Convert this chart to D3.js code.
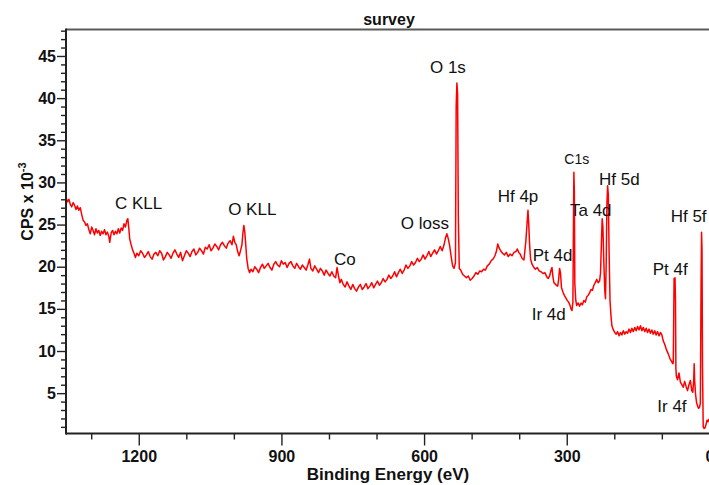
<!DOCTYPE html>
<html>
<head>
<meta charset="utf-8">
<script src="https://cdn.jsdelivr.net/npm/d3@7"></script>
<style>
  html, body { margin: 0; padding: 0; background: #fff; }
  svg { display: block; font-family: "Liberation Sans", Arial, sans-serif; }
</style>
</head>
<body>
<svg id="chart" width="709" height="485"></svg>
<script>
// ---- data: [binding energy (eV), CPS x 10^-3] ----
const regionAuger = [
  [1353,28.2],[1350,27.7],[1347,28.0],[1344,27.4],[1341,27.1],[1338,27.6],[1335,27.3],[1332,26.8],[1329,27.2],[1326,26.7],
  [1323,27.0],[1320,26.2],[1317,25.5],[1314,25.3],[1311,24.9],[1308,25.1],[1305,24.4],[1302,23.9],[1299,24.7],[1296,24.3],
  [1293,23.8],[1290,24.5],[1287,24.0],[1284,24.3],[1281,23.7],[1278,24.2],[1275,23.9],[1272,24.4],[1269,23.8],[1266,24.1],
  [1263,23.6],[1261,22.9],[1258,24.0],[1255,24.3],[1252,23.8],[1249,24.2],[1246,23.9],[1243,24.5],[1240,24.0],[1237,24.6],
  [1234,24.3],[1231,25.1],[1228,24.7],[1225,25.5],[1223,25.7],[1221,24.6],[1219,23.3],[1216,22.6],[1213,22.0],[1210,21.6],
  [1207,21.1],[1204,21.6],[1200,21.3],[1196,21.9],[1192,21.6],[1188,21.1],[1184,21.4],[1180,21.8],[1176,21.2],[1172,20.9],
  [1168,21.5],[1164,21.7],[1160,21.3],[1156,21.9],[1152,21.6],[1148,20.8],[1144,21.2],[1140,21.7],[1136,21.4],[1132,21.0],
  [1128,21.6],[1124,22.0],[1120,21.5],[1116,21.1],[1112,21.7],[1108,20.7],[1104,21.3],[1100,21.9],[1096,21.6],[1092,21.2],
  [1088,21.8],[1084,22.1],[1080,21.4],[1076,21.7],[1072,22.2],[1068,21.9],[1064,21.5],[1060,22.3],[1056,22.1],[1052,22.6],
  [1048,21.9],[1044,22.2],[1040,22.7],[1036,22.4],[1032,22.0],[1028,22.6],[1024,22.9],[1020,22.5],[1016,22.2],[1012,22.8],
  [1008,23.1],[1004,22.6],[1001,23.6],[998,22.9],[995,22.6],[992,21.8],[989,21.3],[986,21.9],[983,22.6],[981,24.0],
  [979,24.9],[977,24.1],[975,22.6],[973,21.0],[970,19.8],[967,19.3],[964,19.7]
];
const regionValence = [
  [960,19.4],[956,20.0],[952,19.7],[948,19.3],[944,19.9],[940,20.3],[936,19.8],[932,20.1],[928,20.4],[924,19.9],
  [920,19.6],[916,20.3],[912,20.6],[908,20.2],[904,20.0],[900,20.7],[896,20.3],[892,20.5],[888,19.9],[884,20.4],
  [880,20.6],[876,20.1],[872,19.8],[868,20.4],[864,20.0],[860,19.7],[856,20.2],[852,19.9],[848,19.6],[844,20.3],
  [841,20.9],[838,19.8],[834,19.5],[830,20.1],[826,19.7],[822,19.3],[818,19.8],[814,19.5],[810,19.0],[806,19.6],
  [802,19.2],[798,18.9],[794,19.4],[790,18.9],[786,18.7],[783,19.9],[780,18.9],[777,18.1],[774,18.5],[770,17.9],
  [766,17.6],[762,18.2],[758,17.7],[754,17.3],[750,17.9],[746,17.4],[742,17.1],[738,17.6],[734,17.9],[730,17.3],
  [726,17.6],[722,18.0],[718,17.4],[714,17.7],[710,18.1],[706,17.5],[702,17.9],[698,18.3],[694,17.8],[690,18.1],
  [686,18.6],[682,18.2],[678,18.5],[674,19.0],[670,18.6],[666,18.9],[662,19.4],[658,18.8],[654,19.3],[650,19.7],
  [646,19.2],[642,19.6],[638,20.2],[634,19.8],[630,20.1],[626,20.6],[622,20.2],[618,20.5],[614,21.0],[610,20.6],
  [606,20.9],[602,21.4],[598,20.9],[594,21.3],[590,21.8],[586,21.2],[582,21.6],[578,22.0],[574,21.5],[570,21.9],
  [566,22.4],[562,21.9],[558,22.6],[555,23.4],[552,23.9],[549,23.3],[546,22.4],[543,21.2],[540,20.1],[537,19.8],
  [534,20.5],[532.5,39.0],[531,41.8],[529.5,40.5],[528,26.0],[526,19.8]
];
const regionCore = [
  [523,19.6],[519,19.1],[515,18.9],[511,18.7],[507,18.9],[503,18.4],[499,18.6],[495,18.9],[491,19.3],[487,19.1],
  [483,19.5],[479,19.4],[475,19.7],[471,19.6],[467,20.1],[463,20.3],[459,20.7],[455,20.9],[451,21.3],[448,21.8],
  [445,22.7],[442,22.2],[439,21.9],[435,21.6],[431,21.4],[427,21.7],[423,21.2],[419,21.5],[415,21.3],[411,21.7],
  [407,21.8],[404,22.1],[401,21.7],[398,21.5],[394,21.0],[390,20.8],[386,23.0],[383,25.5],[381.5,26.7],[380,25.2],
  [378,22.5],[376,20.9],[373,20.3],[370,20.0],[366,19.7],[362,19.9],[358,19.5],[354,19.4],[350,19.2],[346,19.3],
  [342,18.8],[339,18.6],[336,18.9],[333,19.6],[331,19.9],[329,18.8],[327,18.1],[325,18.0],[322,17.8],[319,17.7],
  [317,18.5],[315,19.8],[313,19.2],[311,17.5],[308,17.0],[305,16.6],[302,16.3],[299,16.0],[296,15.8],[293,15.4],
  [291,15.0],[289,14.8],[287,15.8],[286,24.0],[285,31.2],[284,29.0],[283,18.0],[281,16.0],[279,15.4],[276,15.7],
  [273,15.3],[270,15.7],[267,15.5],[264,16.0],[261,15.8],[258,16.4],[255,16.6],[252,16.9],[249,17.3],[246,17.2],
  [243,17.8],[240,18.1],[237,18.5],[234,18.1],[231,18.3],[229,19.2],[227,23.0],[225.5,25.7],[224,24.8],[222,20.5],
  [220,17.2],[218.5,16.2],[217,20.5],[215.5,27.5],[214,29.6],[212.5,28.5],[211,22.0],[209,16.0],[207,14.2],[205,13.0],
  [202,12.5],[199,12.2]
];
const regionShallow = [
  [196,12.0],[193,12.3],[190,11.8],[187,12.2],[184,11.9],[181,12.4],[178,12.0],[175,12.3],[172,12.1],[169,12.6],
  [166,12.2],[163,12.7],[160,12.3],[157,12.8],[154,12.4],[151,12.9],[148,12.5],[145,13.0],[142,12.4],[139,12.8],
  [136,12.3],[133,12.7],[130,12.2],[127,12.6],[124,12.1],[121,12.5],[118,12.0],[115,12.4],[112,11.9],[109,12.3],
  [106,11.8],[103,12.2],[100,11.9],[97,11.2],[94,10.8],[90,10.1],[86,9.6],[83,9.1],[80,8.8],[77,8.5],
  [76,8.6],[75,14.0],[74.3,18.6],[73.3,17.2],[72.3,18.7],[71.3,16.0],[70.5,8.0],[69.5,7.0],[67,6.6],[64,7.4],
  [61,6.3],[58,6.0],[55,5.7],[52,6.4],[49,5.8],[46,5.3],[43,6.0],[40,6.5],[37,5.3],[35,5.1],
  [33,6.5],[32,8.5],[31,6.5],[29,4.8],[27,3.9],[25,3.5],[23,3.2],[21,3.3],[19,3.8],[17.5,18.0],
  [16.5,24.1],[15.5,22.0],[14.5,8.0],[13,1.0],[11,0.8],[9,0.9],[7,1.3],[5,1.8],[3,1.6],[1,1.9],[-1,1.7]
];

const xMajorTicks = [1200, 900, 600, 300, 0];
const xMinorTicks = [1300, 1100, 1000, 800, 700, 500, 400, 200, 100];
const yMajorTicks = [5, 10, 15, 20, 25, 30, 35, 40, 45];
const yMinorTicks = [1,2,3,4,6,7,8,9,11,12,13,14,16,17,18,19,21,22,23,24,26,27,28,29,31,32,33,34,36,37,38,39,41,42,43,44,46,47,48];

// peak annotations: label, energy (eV) and CPS level where the label sits
const peakNames  = ["C KLL","O KLL","Co","O loss","O 1s","Hf 4p","Pt 4d","Ir 4d","C1s","Ta 4d","Hf 5d","Hf 5f","Pt 4f","Ir 4f"];
const peakEnergy = [1250, 1012, 789.5, 649, 587.6, 445.2, 371.6, 373.7, 305.2, 293.2, 232.2, 81.4, 119.2, 109.6];
const peakLevel  = [26.9, 26.1, 20.25, 24.44, 42.93, 27.68, 20.64, 13.63, 32.13, 26.02, 29.67, 25.31, 18.98, 2.74];

const titleText = "survey";
const xTitle = "Binding Energy (eV)";

// ---- drawing ----
const spectrum = regionAuger.concat(regionValence, regionCore, regionShallow);
const svg = d3.select("#chart");
const L = 66, R = 711, T = 29.5, B = 433.5;

const x = d3.scaleLinear().domain([1353, 0]).range([L, 709.4]);
const y = d3.scaleLinear().domain([0.214, 48.14]).range([B, T]);

svg.append("rect").attr("width", 709).attr("height", 485).attr("fill", "#fff");

svg.append("defs").append("clipPath").attr("id", "plotclip")
  .append("rect").attr("x", L).attr("y", T).attr("width", R - L).attr("height", B - T);

svg.append("path")
  .datum(spectrum)
  .attr("clip-path", "url(#plotclip)")
  .attr("fill", "none")
  .attr("stroke", "#ff0000")
  .attr("stroke-width", 1.5)
  .attr("stroke-linejoin", "round")
  .attr("d", d3.line().x(d => x(d[0])).y(d => y(d[1])));

// top frame line
svg.append("line").attr("x1", L).attr("x2", 709).attr("y1", T).attr("y2", T)
  .attr("stroke", "#5a5a5a").attr("stroke-width", 2);

// x axis
const gxMinor = svg.append("g").attr("transform", `translate(0,${B})`)
  .call(d3.axisBottom(x).tickValues(xMinorTicks).tickSize(6).tickFormat(""));
const gx = svg.append("g").attr("transform", `translate(0,${B})`)
  .call(d3.axisBottom(x).tickValues(xMajorTicks).tickSize(12).tickPadding(5).tickFormat(d3.format("d")));
[gxMinor, gx].forEach(g => {
  g.select(".domain").remove();
  g.selectAll("line").attr("stroke", "#222").attr("stroke-width", 1.4);
});
gx.selectAll("text").attr("font-size", 16).attr("font-weight", "bold").attr("fill", "#111")
  .attr("font-family", "'Liberation Sans', Arial, sans-serif");

// y axis
const gyMinor = svg.append("g").attr("transform", `translate(${L},0)`)
  .call(d3.axisLeft(y).tickValues(yMinorTicks).tickSize(5).tickFormat(""));
const gy = svg.append("g").attr("transform", `translate(${L},0)`)
  .call(d3.axisLeft(y).tickValues(yMajorTicks).tickSize(9).tickPadding(1).tickFormat(d3.format("d")));
[gyMinor, gy].forEach(g => {
  g.select(".domain").remove();
  g.selectAll("line").attr("stroke", "#222").attr("stroke-width", 1.4);
});
gy.selectAll("text").attr("font-size", 16).attr("font-weight", "bold").attr("fill", "#111")
  .attr("font-family", "'Liberation Sans', Arial, sans-serif");

// axis lines
svg.append("line").attr("x1", L).attr("x2", 709).attr("y1", B).attr("y2", B)
  .attr("stroke", "#222").attr("stroke-width", 2);
svg.append("line").attr("x1", L).attr("x2", L).attr("y1", T - 1).attr("y2", B + 1)
  .attr("stroke", "#222").attr("stroke-width", 2);

// titles
svg.append("text").attr("x", 389).attr("y", 25).attr("text-anchor", "middle")
  .attr("font-size", 16).attr("font-weight", "bold").attr("fill", "#111").text(titleText);
svg.append("text").attr("x", 388).attr("y", 480).attr("text-anchor", "middle")
  .attr("font-size", 17).attr("font-weight", "bold").attr("fill", "#111").text(xTitle);
const yt = svg.append("text").attr("transform", "translate(33,201.5) rotate(-90)")
  .attr("text-anchor", "middle").attr("font-size", 16).attr("font-weight", "bold").attr("fill", "#111");
yt.append("tspan").text("CPS x 10");
yt.append("tspan").attr("dy", -7).attr("font-size", 11).text("-3");

// peak labels
svg.append("g").selectAll("text")
  .data(peakNames)
  .join("text")
  .attr("x", (d, i) => x(peakEnergy[i]))
  .attr("y", (d, i) => y(peakLevel[i]))
  .attr("font-size", d => d === "C1s" ? 14 : 17)
  .attr("fill", "#111")
  .text(d => d);
</script>
</body>
</html>
